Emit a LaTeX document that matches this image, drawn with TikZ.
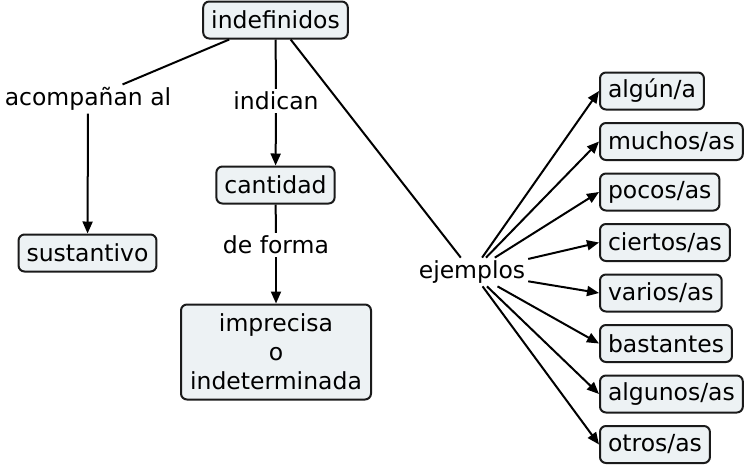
\documentclass[tikz,border=0pt]{standalone}
\usepackage{fontspec}
\setmainfont{DejaVu Sans}
\usepackage{tikz}
\usetikzlibrary{arrows.meta,positioning}
\definecolor{cmfill}{HTML}{EDF2F4}
\definecolor{cmline}{HTML}{1A1A1A}

\begin{document}
\begin{tikzpicture}[x=1pt,y=1pt,>={Triangle[length=12pt,width=10pt]},
  line width=2pt,
  box/.style={draw=cmline,rounded corners=6pt,fill=cmfill,minimum height=37pt,inner xsep=8pt,font=\fontsize{23.5}{29}\selectfont},
  lbl/.style={inner sep=2pt,font=\fontsize{23.5}{29}\selectfont}]
\useasboundingbox (0,0) rectangle (751,-467);
\node[box](indef) at (275.5,-20){indefinidos};
\node[lbl](acomp) at (88,-99){acompañan al};
\node[lbl](indican) at (276,-101){indican};
\node[box](cantidad) at (275.5,-185){cantidad};
\node[box](sustantivo) at (87.5,-253){sustantivo};
\node[lbl](forma) at (276,-245){de forma};
\node[box,align=center,minimum width=190pt,minimum height=95pt](impre) at (276,-352){imprecisa\\o\\indeterminada};
\node[lbl](ejemplos) at (472,-272){ejemplos};
% ejemplos
\node[box,anchor=west](algun) at (599,-91){algún/a};
\node[box,below=11.5pt of algun.south west,anchor=north west](muchos){muchos/as};
\node[box,below=11.5pt of muchos.south west,anchor=north west](pocos){pocos/as};
\node[box,below=11.5pt of pocos.south west,anchor=north west](ciertos){ciertos/as};
\node[box,below=11.5pt of ciertos.south west,anchor=north west](varios){varios/as};
\node[box,below=11.5pt of varios.south west,anchor=north west](bastantes){bastantes};
\node[box,below=11.5pt of bastantes.south west,anchor=north west](algunos){algunos/as};
\node[box,below=11.5pt of algunos.south west,anchor=north west](otros){otros/as};
\draw (indef) -- (acomp);
\draw[->] (acomp) -- (sustantivo);
\draw (indef) -- (indican);
\draw[->] (indican) -- (cantidad);
\draw (cantidad) -- (forma);
\draw[->] (forma) -- (impre);
\draw (indef) -- (ejemplos);
\draw[->] (ejemplos) -- (algun.west);
\draw[->] (ejemplos) -- (muchos.west);
\draw[->] (ejemplos) -- (pocos.west);
\draw[->] (ejemplos) -- (ciertos.west);
\draw[->] (ejemplos) -- (varios.west);
\draw[->] (ejemplos) -- (bastantes.west);
\draw[->] (ejemplos) -- (algunos.west);
\draw[->] (ejemplos) -- (otros.west);
\end{tikzpicture}
\end{document}
